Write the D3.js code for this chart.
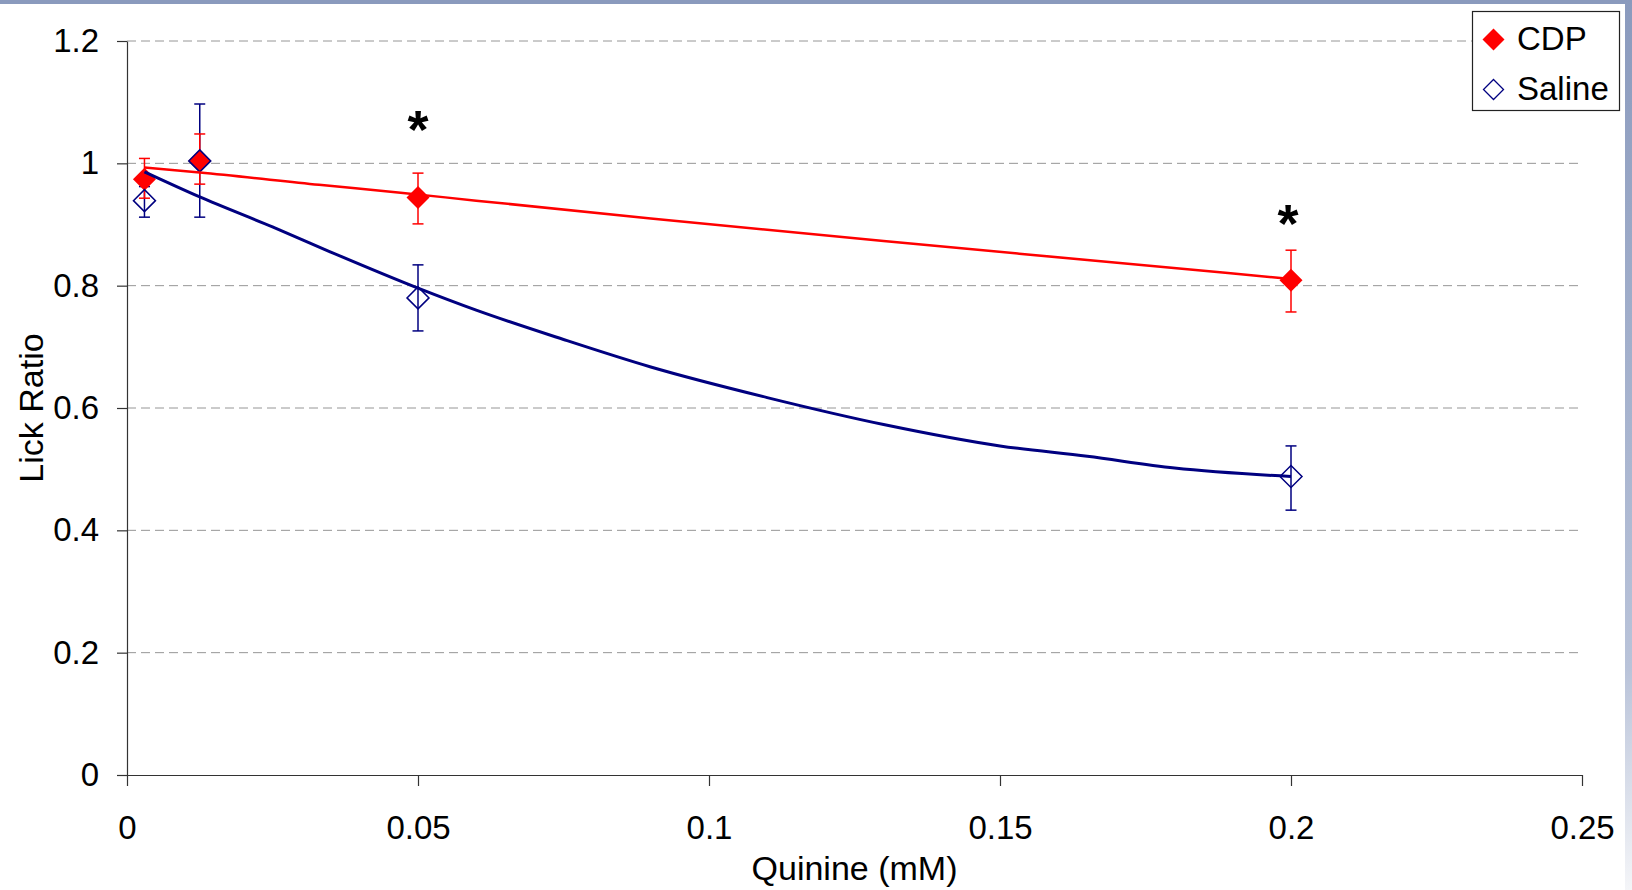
<!DOCTYPE html>
<html lang="en">
<head>
<meta charset="utf-8">
<title>Lick Ratio vs Quinine</title>
<script src="https://cdn.jsdelivr.net/npm/d3@7" charset="utf-8"></script>
<style>
  body { margin: 0; background: #fff; }
  text { font-family: "Liberation Sans", Arial, sans-serif; }
</style>
</head>
<body>
<script type="text/javascript">

// ---- data ----
var quinine = [0.003, 0.0125, 0.05, 0.2];

var cdpMean = [0.974, 1.004, 0.944, 0.809];
var cdpHigh = [1.008, 1.048, 0.984, 0.858];
var cdpLow  = [0.943, 0.966, 0.901, 0.757];

var salineMean = [0.939, 1.004, 0.780, 0.488];
var salineHigh = [0.962, 1.097, 0.834, 0.538];
var salineLow  = [0.912, 0.912, 0.726, 0.433];

// trend lines as drawn in the picture
var cdpTrendX = [0.003, 0.0125, 0.033, 0.047, 0.06, 0.09, 0.13, 0.165, 0.2];
var cdpTrendY = [0.993, 0.985, 0.965, 0.952, 0.939, 0.910, 0.873, 0.842, 0.811];
var salineTrendX = [0.003, 0.0125, 0.025, 0.035, 0.05, 0.06, 0.075, 0.09, 0.11, 0.13, 0.15, 0.165, 0.18, 0.2];
var salineTrendY = [0.986, 0.945, 0.896, 0.855, 0.796, 0.760, 0.712, 0.667, 0.617, 0.573, 0.538, 0.521, 0.502, 0.488];

// significance marks
var starX = [0.05, 0.1995];
var starY = [1.075, 0.922];

var xTicks = [0, 0.05, 0.1, 0.15, 0.2, 0.25];
var xTickLabels = ["0", "0.05", "0.1", "0.15", "0.2", "0.25"];
var yTicks = [0, 0.2, 0.4, 0.6, 0.8, 1, 1.2];
var yTickLabels = ["0", "0.2", "0.4", "0.6", "0.8", "1", "1.2"];

var seriesNames = ["CDP", "Saline"];

// ---- layout ----
var width = 1632;
var height = 890;
var red = "#ff0000";
var navy = "#000080";

var svg = d3.select("body").append("svg")
            .attr("width", width)
            .attr("height", height);

// slide frame strips
var defs = svg.append("defs");
var grad = defs.append("linearGradient")
               .attr("id", "edge").attr("x1", 0).attr("y1", 0).attr("x2", 0).attr("y2", 1);
grad.append("stop").attr("offset", "0%").attr("stop-color", "#8a9abd");
grad.append("stop").attr("offset", "75%").attr("stop-color", "#b9c3d9");
grad.append("stop").attr("offset", "100%").attr("stop-color", "#f4f5f8");

svg.append("rect").attr("x", 0).attr("y", 0).attr("width", width).attr("height", 4).attr("fill", "#8a9abd");
svg.append("rect").attr("x", 1625).attr("y", 0).attr("width", 7).attr("height", height).attr("fill", "url(#edge)");

var x = d3.scaleLinear().domain([0, 0.25]).range([127, 1582]);
var y = d3.scaleLinear().domain([0, 1.2]).range([775, 41]);

// gridlines
svg.append("g")
   .selectAll("line")
   .data(yTicks.filter(function(d) { return d > 0; }))
   .enter()
   .append("line")
   .attr("x1", x(0))
   .attr("x2", x(0.25))
   .attr("y1", function(d) { return y(d); })
   .attr("y2", function(d) { return y(d); })
   .attr("stroke", "#969696")
   .attr("stroke-width", 1)
   .attr("stroke-dasharray", "9,5");

// axes
var xAxis = d3.axisBottom(x)
              .tickValues(xTicks)
              .tickFormat(function(d, i) { return xTickLabels[i]; })
              .tickSizeInner(11)
              .tickSizeOuter(0)
              .tickPadding(30);

var yAxis = d3.axisLeft(y)
              .tickValues(yTicks)
              .tickFormat(function(d, i) { return yTickLabels[i]; })
              .tickSizeInner(10)
              .tickSizeOuter(0)
              .tickPadding(18);

var gx = svg.append("g").attr("transform", "translate(0," + y(0) + ")").call(xAxis);
var gy = svg.append("g").attr("transform", "translate(" + x(0) + ",0)").call(yAxis);

[gx, gy].forEach(function(g) {
  g.selectAll("path, line").attr("stroke", "#333").attr("stroke-width", 1.2);
  g.selectAll("text")
   .attr("fill", "#000")
   .style("font-family", "'Liberation Sans', Arial, sans-serif")
   .style("font-size", "33px");
});

// axis titles
svg.append("text")
   .attr("x", (x(0) + x(0.25)) / 2)
   .attr("y", 880)
   .attr("text-anchor", "middle")
   .attr("font-size", 34)
   .text("Quinine (mM)");

svg.append("text")
   .attr("transform", "translate(43," + ((y(0) + y(1.2)) / 2) + ") rotate(-90)")
   .attr("text-anchor", "middle")
   .attr("font-size", 34)
   .text("Lick Ratio");

// helpers
function diamond(cx, cy, r) {
  return "M" + cx + "," + (cy - r) + "L" + (cx + r) + "," + cy +
         "L" + cx + "," + (cy + r) + "L" + (cx - r) + "," + cy + "Z";
}

function drawErrors(means, highs, lows, color) {
  var g = svg.append("g").attr("stroke", color).attr("stroke-width", 1.5);
  quinine.forEach(function(q, i) {
    var cx = x(q);
    g.append("line").attr("x1", cx).attr("x2", cx).attr("y1", y(highs[i])).attr("y2", y(lows[i]));
    g.append("line").attr("x1", cx - 5.5).attr("x2", cx + 5.5).attr("y1", y(highs[i])).attr("y2", y(highs[i]));
    g.append("line").attr("x1", cx - 5.5).attr("x2", cx + 5.5).attr("y1", y(lows[i])).attr("y2", y(lows[i]));
  });
}

drawErrors(salineMean, salineHigh, salineLow, navy);
drawErrors(cdpMean, cdpHigh, cdpLow, red);

// CDP markers (filled)
svg.append("g")
   .selectAll("path")
   .data(cdpMean)
   .enter()
   .append("path")
   .attr("d", function(d, i) { return diamond(x(quinine[i]), y(d), 11.5); })
   .attr("fill", red);

// Saline markers (hollow)
svg.append("g")
   .selectAll("path")
   .data(salineMean)
   .enter()
   .append("path")
   .attr("d", function(d, i) { return diamond(x(quinine[i]), y(d), 11); })
   .attr("fill", "none")
   .attr("stroke", navy)
   .attr("stroke-width", 1.5);

// trend lines
var line = d3.line()
             .x(function(d) { return x(d[0]); })
             .y(function(d) { return y(d[1]); })
             .curve(d3.curveMonotoneX);

svg.append("path")
   .datum(cdpTrendX.map(function(v, i) { return [v, cdpTrendY[i]]; }))
   .attr("d", line)
   .attr("fill", "none")
   .attr("stroke", red)
   .attr("stroke-width", 2.5);

svg.append("path")
   .datum(salineTrendX.map(function(v, i) { return [v, salineTrendY[i]]; }))
   .attr("d", line)
   .attr("fill", "none")
   .attr("stroke", navy)
   .attr("stroke-width", 3);

// asterisks
svg.append("g")
   .selectAll("text")
   .data(starX)
   .enter()
   .append("text")
   .attr("x", function(d) { return x(d); })
   .attr("y", function(d, i) { return y(starY[i]) + 31; })
   .attr("text-anchor", "middle")
   .attr("font-size", 54)
   .attr("font-weight", "bold")
   .text("*");

// legend
var legend = svg.append("g");
legend.append("rect")
      .attr("x", 1472.5).attr("y", 11.5)
      .attr("width", 147).attr("height", 99)
      .attr("fill", "#fff")
      .attr("stroke", "#222")
      .attr("stroke-width", 1.2);

legend.append("path").attr("d", diamond(1493.5, 39.5, 11)).attr("fill", red);
legend.append("path").attr("d", diamond(1493.5, 89.5, 10)).attr("fill", "none").attr("stroke", navy).attr("stroke-width", 1.3);

legend.selectAll("text.lab")
      .data(seriesNames)
      .enter()
      .append("text")
      .attr("class", "lab")
      .attr("x", 1517)
      .attr("y", function(d, i) { return 50 + i * 49.5; })
      .attr("font-size", 33)
      .text(function(d) { return d; });

</script>
</body>
</html>
